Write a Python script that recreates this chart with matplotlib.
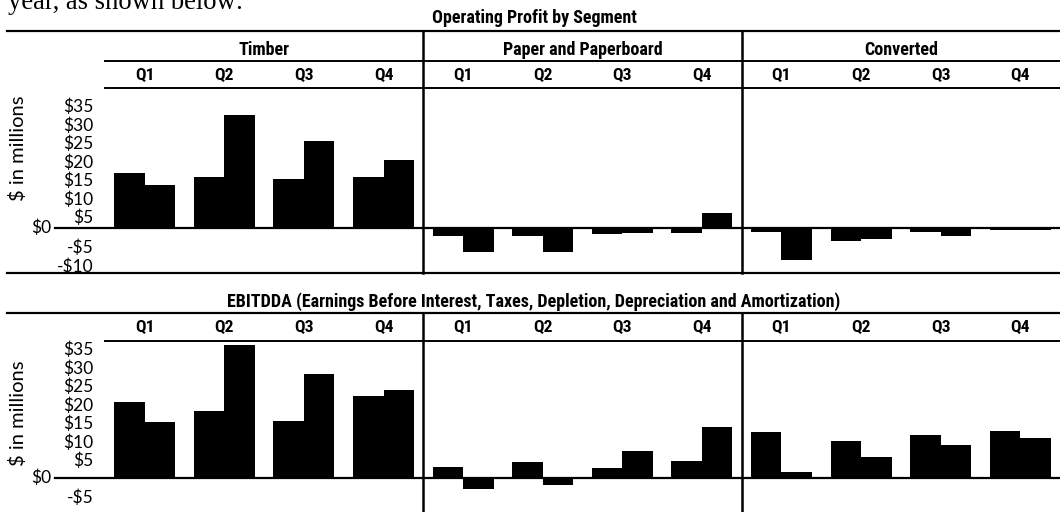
import matplotlib.pyplot as plt
from matplotlib.lines import Line2D
from matplotlib.transforms import ScaledTranslation, blended_transform_factory

# values in $ millions (two bars per quarter)
segments = ["Timber", "Paper and Paperboard", "Converted"]
quarters = ["Q1", "Q2", "Q3", "Q4"]

op_bar1 = [14.9, 13.9, 13.2, 13.9, -2.1, -2.1, -1.6, -1.2, -1.1, -3.4, -1.1, -0.6]
op_bar2 = [11.8, 30.6, 23.6, 18.4, -6.5, -6.5, -1.4, 4.1, -8.6, -2.9, -2.1, -0.6]
eb_bar1 = [20.5, 18.0, 15.3, 22.2, 2.9, 4.3, 2.7, 4.5, 12.3, 9.9, 11.5, 12.8]
eb_bar2 = [15.1, 36.0, 28.1, 23.8, -3.0, -2.0, 7.2, 13.7, 1.5, 5.6, 8.8, 10.8]

op_ticks = [-10, -5, 5, 10, 15, 20, 25, 30, 35]
eb_ticks = [-5, 5, 10, 15, 20, 25, 30, 35]

W, H = 1060, 512
fig = plt.figure(figsize=(W / 100, H / 100), dpi=100)

head = dict(family=["Roboto Condensed", "Roboto", "DejaVu Sans"], weight="bold", color="black")
tickfont = "Lato"


def fx(px):
    return px / W


def fy(py):
    return 1 - py / H


def hline(py, x0, x1, lw=1.6):
    fig.add_artist(Line2D([fx(x0), fx(x1)], [fy(py), fy(py)], color="black", lw=lw))


def panel(rect, bar1, bar2, ylim, ticks, top_px, bottom_px, label_shift, show_segments):
    ax = fig.add_axes(rect)
    n = len(bar1)
    xs = list(range(n))
    w = 0.383
    ax.bar([x - w / 2 for x in xs], bar1, width=w, color="black", linewidth=0)
    ax.bar([x + w / 2 for x in xs], bar2, width=w, color="black", linewidth=0)
    ax.set_xlim(-0.5, n - 0.5)
    ax.set_ylim(*ylim)
    for s in ax.spines.values():
        s.set_visible(False)
    ax.set_xticks([])
    ax.set_yticks(ticks, ["-$%d" % -t if t < 0 else "$%d" % t for t in ticks])
    ax.tick_params(axis="y", length=0, pad=8.5, labelsize=12.5)
    for lab in ax.get_yticklabels():
        lab.set_family(tickfont)
    # the printed labels above zero sit a bit lower than their values
    for t, tk in zip(ticks, ax.yaxis.get_major_ticks()):
        if t > 0 and label_shift:
            tk.label1.set_transform(tk.label1.get_transform()
                                    + ScaledTranslation(0, -label_shift / 100, fig.dpi_scale_trans))

    # zero line reaching out to the $0 label
    ax_px = rect[2] * W
    yt = ax.get_yaxis_transform()
    ax.plot([-50 / ax_px, 1], [0, 0], color="black", lw=1.6, transform=yt, clip_on=False)
    ax.text(-54 / ax_px, 0, "$0", transform=yt, ha="right", va="center",
            family=tickfont, fontsize=12.5)

    # segment dividers running up through the header rows
    ax_h = rect[3] * H
    for b in [3.5, 7.5]:
        ax.axvline(b, ymin=0, ymax=1 + top_px / ax_h, color="black", lw=1.8, clip_on=False)

    bt = blended_transform_factory(ax.transData, ax.transAxes)
    for i in range(n):
        ax.text(i, 1 + bottom_px / ax_h, quarters[i % 4], transform=bt,
                ha="center", va="center", fontsize=12.6, **head)
    if show_segments:
        for k, seg in enumerate(segments):
            ax.text(4 * k + 1.5, 1 + 38 / ax_h, seg, transform=bt,
                    ha="center", va="center", fontsize=13, **head)
    ax.set_ylabel("$ in millions", family=tickfont, fontsize=14.5)
    return ax


# top panel: operating profit
ax1 = panel([fx(105), fy(273), fx(955), 185 / H], op_bar1, op_bar2,
            (-12.1, 37.9), op_ticks, 57, 12, 7, True)
ax1.yaxis.set_label_coords(-0.082, 0.676)

# bottom panel: EBITDDA
ax2 = panel([fx(105), 0, fx(955), 171 / H], eb_bar1, eb_bar2,
            (-9.2, 37.0), eb_ticks, 28, 13, 0, False)
ax2.yaxis.set_label_coords(-0.082, 0.579)

# rules of the table
hline(31, 7, W)
hline(61, 105, W, 1.4)
hline(88, 105, W, 1.4)
hline(273, 7, W)
hline(313, 7, W)
hline(341, 105, W, 1.4)

fig.text(fx(534), fy(18), "Operating Profit by Segment", ha="center", va="center",
         fontsize=13, **head)
fig.text(fx(534), fy(302),
         "EBITDDA (Earnings Before Interest, Taxes, Depletion, Depreciation and Amortization)",
         ha="center", va="center", fontsize=13, **head)

# tail of the sentence above the chart, cut by the page edge
fig.text(fx(8), fy(9), "year, as shown below:", ha="left", va="baseline",
         family="Liberation Serif", fontsize=19.2)

fig.savefig("out.png", dpi=100)
